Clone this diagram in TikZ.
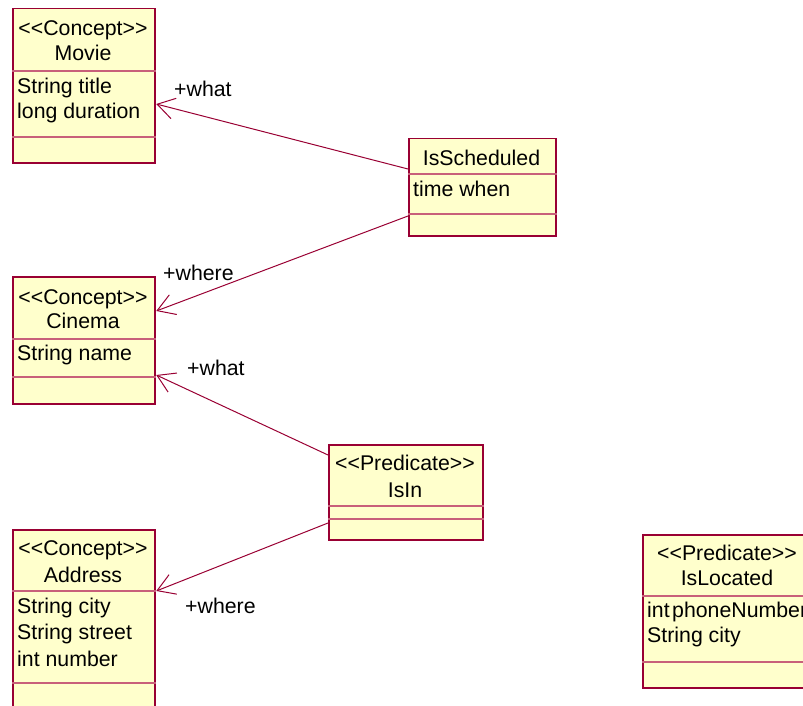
\documentclass[tikz,border=0pt]{standalone}
\usepackage{fontspec}
\setmainfont{Liberation Sans}[Ligatures=TeXOff]
\usetikzlibrary{arrows.meta}
\definecolor{umlfill}{HTML}{FFFFCC}
\definecolor{umlline}{HTML}{990033}
\definecolor{umlsep}{HTML}{C8607A}
\begin{document}
\begin{tikzpicture}[x=1pt,y=-1pt,
  classbox/.style={draw=umlline, fill=umlfill, line width=1.5pt, inner sep=0pt, anchor=north west},
  sepline/.style={draw=umlsep, line width=1.5pt},
  txt/.style={inner sep=0pt, font=\fontsize{21.3}{25}\selectfont},
  title/.style={txt, anchor=base},
  attr/.style={txt, anchor=base west},
  role/.style={txt, anchor=base west},
  assoc/.style={draw=umlline, line width=1pt, -{Straight Barb[length=17pt,width=21pt]}}
]
\useasboundingbox (0,0) rectangle (803,706);
\clip (0,0) rectangle (803,706);

% class boxes
\node[classbox, minimum width=142pt, minimum height=154pt] (movie) at (12,8) {};
\node[classbox, minimum width=147pt, minimum height=97pt]  (sched) at (408,138) {};
\node[classbox, minimum width=142pt, minimum height=127pt] (cinema) at (12,276) {};
\node[classbox, minimum width=154pt, minimum height=95pt]  (isin) at (328,444) {};
\node[classbox, minimum width=142pt, minimum height=190pt] (address) at (12,529) {};
\node[classbox, minimum width=170pt, minimum height=153pt] (located) at (642,534) {};

% compartment separators
\foreach \b/\ya/\yb in {movie/71/137, sched/174/214, cinema/339/377,
                        isin/506/519, address/591/683, located/596/662}{
  \draw[sepline] (\b.west |- 0,\ya) -- (\b.east |- 0,\ya);
  \draw[sepline] (\b.west |- 0,\yb) -- (\b.east |- 0,\yb);
}

% Movie
\node[title] (movieS) at (83,36) {<<Concept>>};
\node[title] (movieN) at (83,61) {Movie};
\node[attr]  (movieA1) at (17,94) {String title};
\node[attr]  (movieA2) at (17,119) {long duration};

% IsScheduled
\node[title] (schedN) at (481.5,165) {IsScheduled};
\node[attr]  (schedA1) at (413,196) {time when};

% Cinema
\node[title] (cinemaS) at (83,304) {<<Concept>>};
\node[title] (cinemaN) at (83,328) {Cinema};
\node[attr]  (cinemaA1) at (17,360) {String name};

% IsIn
\node[title] (isinS) at (405,470) {<<Predicate>>};
\node[title] (isinN) at (405,497) {IsIn};

% Address
\node[title] (addrS) at (83,555) {<<Concept>>};
\node[title] (addrN) at (83,582) {Address};
\node[attr]  (addrA1) at (17,613) {String city};
\node[attr]  (addrA2) at (17,639) {String street};
\node[attr]  (addrA3) at (17,666) {int number};

% IsLocated
\node[title] (locS) at (727,560) {<<Predicate>>};
\node[title] (locN) at (727,585) {IsLocated};
\node[attr]  (locA1) at (647,617) {int\hspace{2.5pt}phoneNumber};
\node[attr]  (locA2) at (647,642) {String city};

% association end points
\coordinate (schedTop) at (sched.west |- 0,169);
\coordinate (schedBot) at (sched.west |- 0,216);
\coordinate (isinTop)  at (isin.west |- 0,455);
\coordinate (isinBot)  at (isin.west |- 0,523);
\coordinate (movieEnd)   at ([xshift=0.75pt]movie.east |- 0,104);
\coordinate (cinemaEnd1) at ([xshift=0.75pt]cinema.east |- 0,311);
\coordinate (cinemaEnd2) at ([xshift=0.75pt]cinema.east |- 0,375);
\coordinate (addrEnd)    at ([xshift=0.75pt]address.east |- 0,591);

% associations
\draw[assoc] (schedTop) -- (movieEnd);
\draw[assoc] (schedBot) -- (cinemaEnd1);
\draw[assoc] (isinTop) -- (cinemaEnd2);
\draw[assoc] (isinBot) -- (addrEnd);

% role names
\node[role] (r1) at (174,97)  {+what};
\node[role] (r2) at (163,280) {+where};
\node[role] (r3) at (187,375) {+what};
\node[role] (r4) at (185,613) {+where};
\end{tikzpicture}
\end{document}
